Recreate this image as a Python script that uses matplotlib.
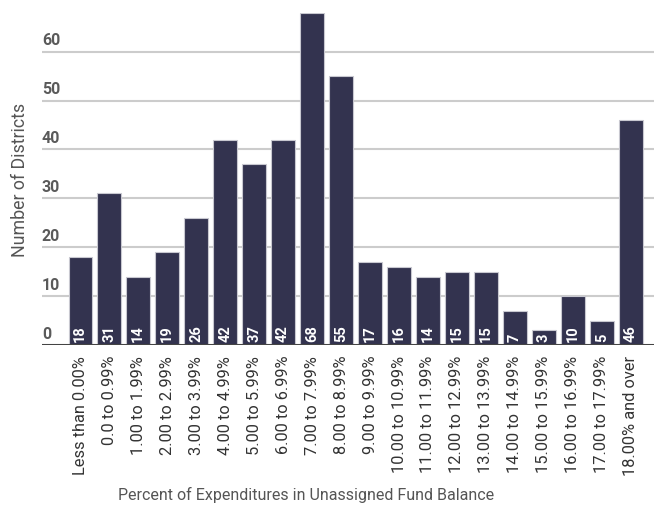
import matplotlib
matplotlib.use('Agg')
from matplotlib import pyplot as plt

categories = ['Less than 0.00%', '0.0 to 0.99%', '1.00 to 1.99%', '2.00 to 2.99%', '3.00 to 3.99%',
              '4.00 to 4.99%', '5.00 to 5.99%', '6.00 to 6.99%', '7.00 to 7.99%', '8.00 to 8.99%',
              '9.00 to 9.99%', '10.00 to 10.99%', '11.00 to 11.99%', '12.00 to 12.99%', '13.00 to 13.99%',
              '14.00 to 14.99%', '15.00 to 15.99%', '16.00 to 16.99%', '17.00 to 17.99%', '18.00% and over']
districts = [18, 31, 14, 19, 26, 42, 37, 42, 68, 55, 17, 16, 14, 15, 15, 7, 3, 10, 5, 46]
y_ticks = [0, 10, 20, 30, 40, 50, 60]

plt.rcParams['font.family'] = ['Roboto', 'DejaVu Sans']

fig = plt.figure(figsize=(6.54, 5.06), dpi=100)
ax = fig.add_axes([42 / 654, 1 - 346 / 506, 1 - 42 / 654, (346 - 13.5) / 506])

x = list(range(len(categories)))
ax.bar(x, districts, width=0.81, color='#33334f', edgecolor='#c8c8d0', linewidth=0.8, zorder=3)

# 柱内数值
for i, v in zip(x, districts):
    ax.text(i, 0.9, str(v), rotation=90, ha='center', va='bottom', color='white',
            fontsize=10.5, fontweight='bold', zorder=4)

ax.set_xlim(-1.32, 19.8)
ax.set_ylim(0, 68)

# 网格线与 y 刻度文字（在线的上方）
for t in y_ticks:
    if t > 0:
        ax.axhline(t, color='#cccccc', linewidth=1.5, zorder=1)
    ax.text(0.0, t + 0.9, str(t), transform=ax.get_yaxis_transform(), ha='left', va='bottom',
            fontsize=11.5, fontweight='bold', color='#5a5a5a')
ax.axhline(0, color='#444444', linewidth=2.2, zorder=5)

ax.set_yticks([])
ax.set_xticks(x)
ax.set_xticklabels(categories, rotation=90, fontsize=11.8, color='#333333')
ax.tick_params(axis='x', length=0, pad=7)
for s in ax.spines.values():
    s.set_visible(False)

fig.text(20 / 654, 1 - 180 / 506, 'Number of Districts', rotation=90, ha='center', va='center',
         fontsize=12.8, color='#555555')
fig.text(306 / 654, 1 - 495 / 506, 'Percent of Expenditures in Unassigned Fund Balance',
         ha='center', va='center', fontsize=11.5, color='#555555')

plt.savefig('out.png', dpi=100)
